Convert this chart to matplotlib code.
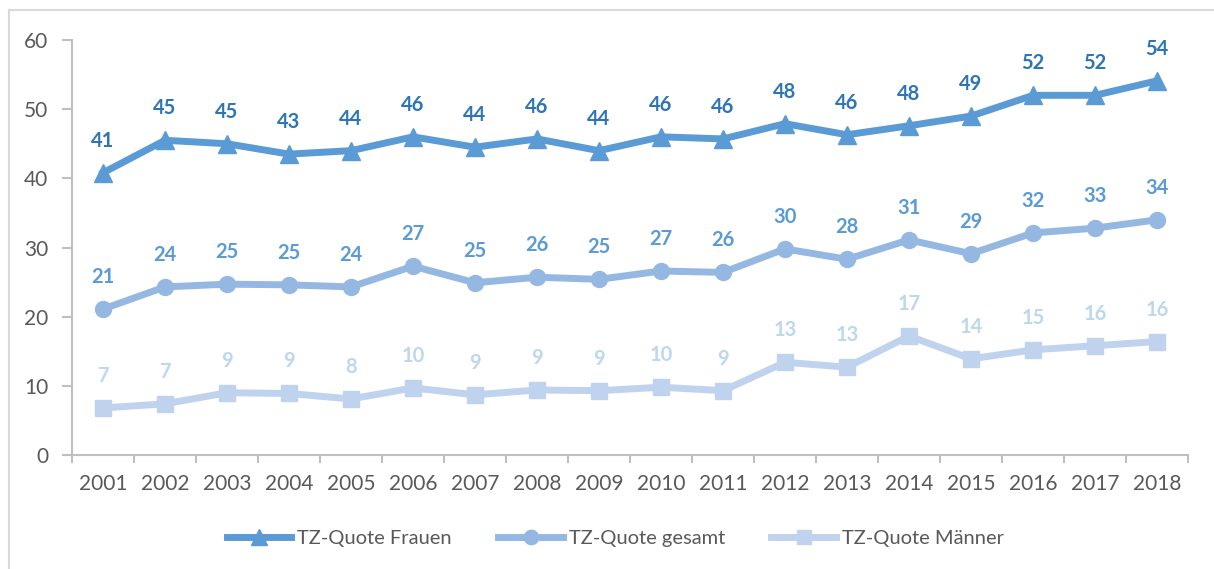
import matplotlib
matplotlib.use("agg")
import matplotlib.pyplot as plt
from matplotlib.lines import Line2D
import numpy as np

years = [str(y) for y in range(2001, 2019)]
frauen = [40.8, 45.5, 45.0, 43.5, 44.0, 46.0, 44.5, 45.7, 44.0, 46.0, 45.7, 47.9, 46.3, 47.6, 49.0, 52.0, 52.0, 54.1]
gesamt = [21.1, 24.3, 24.7, 24.6, 24.3, 27.3, 24.9, 25.7, 25.4, 26.6, 26.4, 29.8, 28.3, 31.1, 29.1, 32.1, 32.8, 34.0]
maenner = [6.8, 7.4, 9.0, 8.9, 8.1, 9.7, 8.7, 9.4, 9.3, 9.8, 9.3, 13.4, 12.7, 17.2, 13.9, 15.2, 15.8, 16.4]

# data labels as printed in the chart
frauen_lbl = [41, 45, 45, 43, 44, 46, 44, 46, 44, 46, 46, 48, 46, 48, 49, 52, 52, 54]
gesamt_lbl = [21, 24, 25, 25, 24, 27, 25, 26, 25, 27, 26, 30, 28, 31, 29, 32, 33, 34]
maenner_lbl = [7, 7, 9, 9, 8, 10, 9, 9, 9, 10, 9, 13, 13, 17, 14, 15, 16, 16]

plt.rcParams["font.family"] = ["Lato", "DejaVu Sans"]

fig = plt.figure(figsize=(12.14, 5.69), dpi=100)
ax = fig.add_axes([72 / 1214, 1 - 455 / 569, (1188 - 72) / 1214, (455 - 40) / 569])

x = np.arange(len(years))
series = [
    ("TZ-Quote Frauen", frauen, frauen_lbl, "#5B9BD5", "#2E75B6", "^", 13),
    ("TZ-Quote gesamt", gesamt, gesamt_lbl, "#95B8E2", "#5B9BD5", "o", 11.5),
    ("TZ-Quote Männer", maenner, maenner_lbl, "#BFD3EE", "#BDD7EE", "s", 11.5),
]
for name, vals, lbls, col, lcol, mk, ms in series:
    ax.plot(x, vals, color=col, lw=5, marker=mk, markersize=ms, label=name)
    for xi, v, t in zip(x, vals, lbls):
        ax.annotate(str(t), (xi, v), xytext=(0, 23), textcoords="offset points",
                    ha="center", va="center", fontsize=14.5, fontweight="bold", color=lcol)

ax.set_xlim(-0.5, len(years) - 0.5)
ax.set_ylim(0, 60)
ax.set_yticks(range(0, 61, 10))
ax.set_xticks(x)
ax.set_xticklabels(years)
ax.set_xticks(np.arange(-0.5, len(years)), minor=True)
ax.tick_params(axis="x", which="major", length=0, pad=14, labelsize=15, labelcolor="#595959")
ax.tick_params(axis="x", which="minor", length=6, color="#BFBFBF", width=1.5)
ax.tick_params(axis="y", length=7, color="#BFBFBF", width=1.5, labelsize=15, labelcolor="#595959", pad=10)
for s in ["top", "right"]:
    ax.spines[s].set_visible(False)
for s in ["left", "bottom"]:
    ax.spines[s].set_color("#BFBFBF")
    ax.spines[s].set_linewidth(1.5)

# outer chart frame
fig.add_artist(Line2D([9 / 1214, 9 / 1214], [0, 1 - 10 / 569], color="#D9D9D9", lw=1.5))
fig.add_artist(Line2D([9 / 1214, 1], [1 - 10 / 569, 1 - 10 / 569], color="#D9D9D9", lw=1.5))

fig.legend(loc="center", bbox_to_anchor=(0.507, 0.054), ncol=3, frameon=False,
           fontsize=14.5, labelcolor="#595959", handlelength=3.2, handletextpad=0.3,
           columnspacing=2.3, markerscale=0.9)

fig.savefig("out.png", dpi=100)
